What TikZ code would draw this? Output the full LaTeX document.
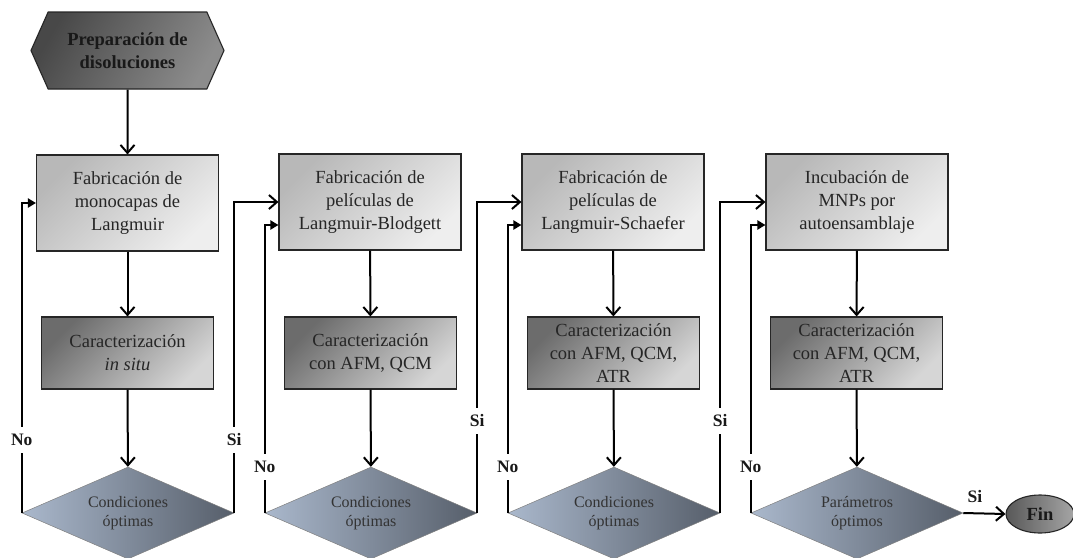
\documentclass[tikz,border=0pt]{standalone}
\usepackage{fontspec}
\setmainfont{Liberation Serif}
\newfontfamily\tnr{Liberation Serif}
\usetikzlibrary{arrows.meta,shapes.geometric,shapes.symbols}
\definecolor{boxA}{RGB}{184,184,184}
\definecolor{boxB}{RGB}{238,238,238}
\definecolor{chrA}{RGB}{108,108,108}
\definecolor{chrB}{RGB}{214,214,214}
\definecolor{dmdA}{RGB}{170,184,204}
\definecolor{dmdB}{RGB}{86,94,106}
\definecolor{hexA}{RGB}{72,72,72}
\definecolor{hexB}{RGB}{140,140,140}
\definecolor{finA}{RGB}{88,88,88}
\definecolor{finB}{RGB}{165,165,165}
\begin{document}
\begin{tikzpicture}[x=1pt,y=-1pt,
  fabbox/.style={rectangle, draw=black!85, line width=1.1pt, minimum width=182pt, minimum height=96pt,
    top color=boxA, bottom color=boxB, shading angle=45, align=center, inner sep=0pt,
    text=black!85, font=\tnr\fontsize{18.5}{23}\selectfont},
  chrbox/.style={rectangle, draw=black!85, line width=1.1pt, minimum width=172pt, minimum height=72pt,
    top color=chrA, bottom color=chrB, shading angle=45, align=center, inner sep=0pt,
    text=black!85, font=\tnr\fontsize{18.5}{23}\selectfont},
  decis/.style={diamond, aspect=2.3, draw=black!50, line width=0.5pt, minimum width=212pt, minimum height=92pt,
    top color=dmdA, bottom color=dmdB, shading angle=90, align=center, inner sep=0pt,
    text=black!80, font=\tnr\fontsize{16}{19}\selectfont},
  hexbox/.style={signal, signal to=west and east, signal pointer angle=132, draw=black!85, line width=1.1pt,
    minimum width=193pt, minimum height=77pt, top color=hexA, bottom color=hexB, shading angle=60,
    align=center, inner sep=0pt, text=black!90, font=\tnr\fontsize{18.5}{23}\selectfont\bfseries},
  finbox/.style={ellipse, draw=black!85, line width=1.1pt, minimum width=68pt, minimum height=38pt,
    top color=finA, bottom color=finB, shading angle=90, inner sep=0pt,
    text=black!90, font=\tnr\fontsize{18.5}{23}\selectfont\bfseries},
  arr/.style={line width=2pt, -{Straight Barb[length=8pt,width=14pt]}},
  noarr/.style={line width=2pt, -{Triangle[length=8pt,width=9pt]}},
  lbl/.style={fill=white, inner xsep=1pt, inner ysep=7pt, text=black!90, font=\tnr\fontsize{17.5}{20}\selectfont\bfseries}
]
\useasboundingbox (0,0) rectangle (1073,557);

\node[hexbox] (prep) at (127.5,50.5) {Preparación de\\disoluciones};

\node[fabbox] (b1) at (127.5,203) {Fabricación de\\monocapas de\\Langmuir};
\node[fabbox] (b2) at (370,202) {Fabricación de\\películas de\\Langmuir-Blodgett};
\node[fabbox] (b3) at (613,202) {Fabricación de\\películas de\\Langmuir-Schaefer};
\node[fabbox] (b4) at (857,202) {Incubación de\\MNPs por\\autoensamblaje};

\node[chrbox] (c1) at (127.5,353) {Caracterización\\\textit{in situ}};
\node[chrbox] (c2) at (370.5,353) {Caracterización\\con AFM, QCM};
\node[chrbox] (c3) at (613.5,353) {Caracterización\\con AFM, QCM,\\ATR};
\node[chrbox] (c4) at (856.5,353) {Caracterización\\con AFM, QCM,\\ATR};

\node[decis] (d1) at (128,513) {Condiciones\\óptimas};
\node[decis] (d2) at (371,513) {Condiciones\\óptimas};
\node[decis] (d3) at (614,513) {Condiciones\\óptimas};
\node[decis] (d4) at (857,513) {Parámetros\\óptimos};

\node[finbox] (fin) at (1040,514) {Fin};

% main flow
\draw[arr] (prep) -- (b1);
\foreach \i in {1,2,3,4}{
  \draw[arr] (b\i) -- (c\i);
  \draw[arr] (c\i) -- (d\i);
}
% no loops
\draw[noarr] (d1.west) |- (b1.west);
\draw[noarr] (d2.west) |- ([yshift=-23pt]b2.west);
\draw[noarr] (d3.west) |- ([yshift=-23pt]b3.west);
\draw[noarr] (d4.west) |- ([yshift=-23pt]b4.west);
% si links
\draw[arr] (d1.east) |- (b2.west);
\draw[arr] (d2.east) |- (b3.west);
\draw[arr] (d3.east) |- (b4.west);
\draw[arr] (d4.east) -- (fin.west);

% labels
\node[lbl] (no1) at (d1.west |- 0,440) {No};
\node[lbl] (si1) at (d1.east |- 0,440) {Si};
\node[lbl] (no2) at (d2.west |- 0,467) {No};
\node[lbl] (si2) at (d2.east |- 0,421) {Si};
\node[lbl] (no3) at (d3.west |- 0,467) {No};
\node[lbl] (si3) at (d3.east |- 0,421) {Si};
\node[lbl] (no4) at (d4.west |- 0,467) {No};
\node[lbl, fill=none, inner ysep=1pt] (si4) at (975,497) {Si};
\end{tikzpicture}
\end{document}
